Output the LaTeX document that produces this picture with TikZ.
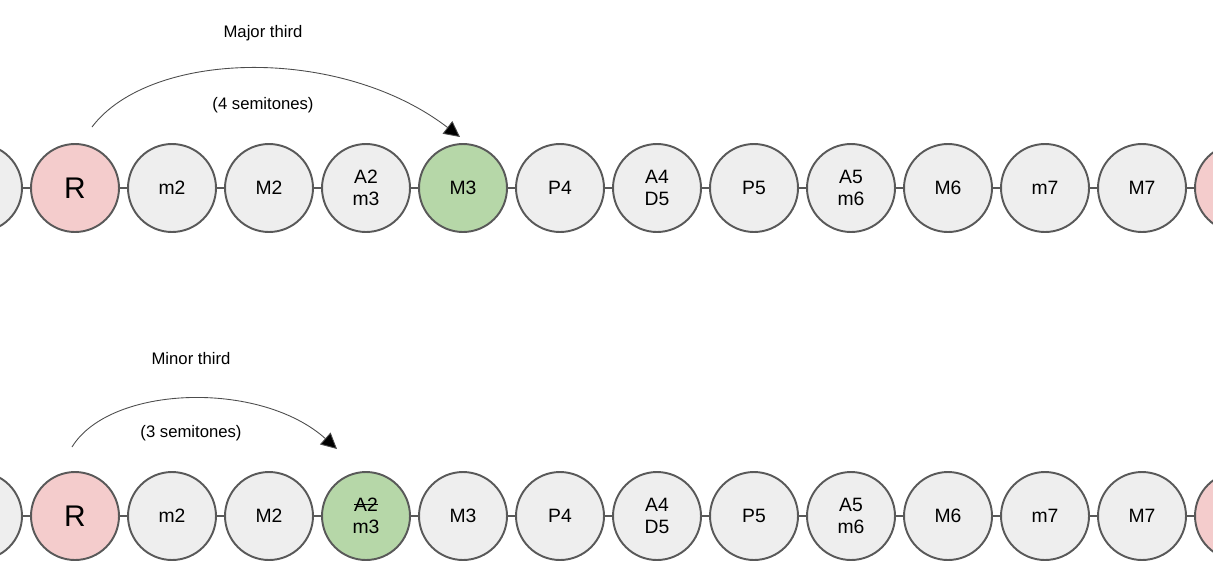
\documentclass[tikz,border=0pt]{standalone}
\usepackage{fontspec}
\setmainfont{Liberation Sans}
\usetikzlibrary{arrows.meta}

\definecolor{ringgray}{HTML}{595959}
\definecolor{notegray}{HTML}{EEEEEE}
\definecolor{rootpink}{HTML}{F4CCCC}
\definecolor{thirdgreen}{HTML}{B6D7A8}

\newsavebox\strikebox
\newcommand\struck[1]{\sbox\strikebox{#1}\rlap{\usebox\strikebox}\rule[0.33em]{\wd\strikebox}{0.7pt}}

\tikzset{
  note/.style={circle,draw=ringgray,line width=1.1pt,fill=notegray,minimum size=1.76cm,inner sep=0pt,align=center,font=\fontsize{11}{12.5}\selectfont},
  root/.style={note,fill=rootpink,font=\fontsize{17}{18}\selectfont},
  third/.style={note,fill=thirdgreen},
  link/.style={draw=ringgray,line width=0.8pt},
  jump/.style={draw=black!70,line width=0.5pt,-{Triangle[length=9pt,width=9pt,fill=black]}},
  caption/.style={font=\fontsize{9.5}{11}\selectfont}
}

\begin{document}
\begin{tikzpicture}[x=0.02cm,y=-0.02cm]
        \useasboundingbox (0,0) rectangle (1213,585);

        % major third row
        \begin{scope}[every node/.style={note}]
            \node (t0) at (-22,188) {};
            \node[root] (t1) at (75,188) {R};
            \node (t2) at (172,188) {m2};
            \node (t3) at (269,188) {M2};
            \node (t4) at (366,188) {A2\\m3};
            \node[third] (t5) at (463,188) {M3};
            \node (t6) at (560,188) {P4};
            \node (t7) at (657,188) {A4\\D5};
            \node (t8) at (754,188) {P5};
            \node (t9) at (851,188) {A5\\m6};
            \node (t10) at (948,188) {M6};
            \node (t11) at (1045,188) {m7};
            \node (t12) at (1142,188) {M7};
            \node[root] (t13) at (1239,188) {};
        \end{scope}

        % minor third row
        \begin{scope}[every node/.style={note}]
            \node (b0) at (-22,516) {};
            \node[root] (b1) at (75,516) {R};
            \node (b2) at (172,516) {m2};
            \node (b3) at (269,516) {M2};
            \node[third] (b4) at (366,516) {\struck{A2}\\m3};
            \node (b5) at (463,516) {M3};
            \node (b6) at (560,516) {P4};
            \node (b7) at (657,516) {A4\\D5};
            \node (b8) at (754,516) {P5};
            \node (b9) at (851,516) {A5\\m6};
            \node (b10) at (948,516) {M6};
            \node (b11) at (1045,516) {m7};
            \node (b12) at (1142,516) {M7};
            \node[root] (b13) at (1239,516) {};
        \end{scope}

        \foreach \i [evaluate=\i as \j using int(\i+1)] in {0,...,12} {
            \draw[link] (t\i) -- (t\j);
            \draw[link] (b\i) -- (b\j);
        }

        \coordinate (majfrom) at (92,127);
        \coordinate (majto) at (460,137);
        \coordinate (minfrom) at (72,447);
        \coordinate (minto) at (337,449);

        \draw[jump] (majfrom) .. controls (150,50) and (340,45) .. (majto);
        \draw[jump] (minfrom) .. controls (110,385) and (260,380) .. (minto);

        \node[caption] (majname) at (263,33) {Major third};
        \node[caption] (majsteps) at (263,105) {(4 semitones)};
        \node[caption] (minname) at (191,359) {Minor third};
        \node[caption] (minsteps) at (191,433) {(3 semitones)};
\end{tikzpicture}
\end{document}
